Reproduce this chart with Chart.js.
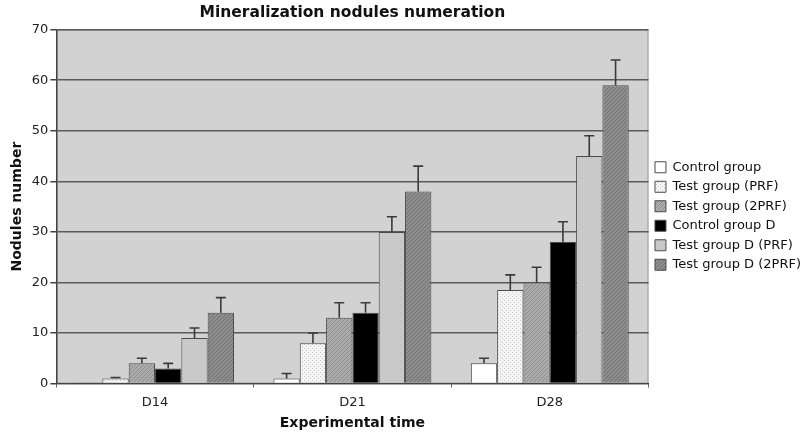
<!DOCTYPE html>
<html>
<head>
<meta charset="utf-8">
<script src="https://cdn.jsdelivr.net/npm/chart.js@4.4.1/dist/chart.umd.min.js"></script>
<style>
  html, body { margin: 0; padding: 0; background: #fff; }
  #wrap { width: 802px; height: 432px; }
</style>
</head>
<body>
<div id="wrap"><canvas id="chart"></canvas></div>
<script>
const categories = ["D14", "D21", "D28"];
const seriesNames = ["Control group", "Test group (PRF)", "Test group (2PRF)", "Control group D", "Test group D (PRF)", "Test group D (2PRF)"];

const controlGroup = [0.2, 1, 4];
const testPRF = [1, 8, 18.5];
const test2PRF = [4, 13, 20];
const controlD = [3, 14, 28];
const testDPRF = [9, 30, 45];
const testD2PRF = [14, 38, 59];

const controlGroupErr = [0, 1, 1];
const testPRFErr = [0.2, 2, 3];
const test2PRFErr = [1, 3, 3];
const controlDErr = [1, 2, 4];
const testDPRFErr = [2, 3, 4];
const testD2PRFErr = [3, 5, 5];

const font = "'DejaVu Sans', Verdana, sans-serif";

// small canvas patterns to mimic the printed fills
const makePattern = (bg, dot, kind) => {
  const c = document.createElement("canvas");
  c.width = 4;
  c.height = 4;
  const g = c.getContext("2d");
  g.fillStyle = bg;
  g.fillRect(0, 0, 4, 4);
  g.fillStyle = dot;
  if (kind === "dots") {
    g.fillRect(0, 0, 1, 1);
    g.fillRect(2, 2, 1, 1);
  } else {
    g.fillRect(0, 3, 1, 1);
    g.fillRect(1, 2, 1, 1);
    g.fillRect(2, 1, 1, 1);
    g.fillRect(3, 0, 1, 1);
  }
  return g.createPattern(c, "repeat");
};

const ctx = document.getElementById("chart").getContext("2d");

const fills = [
  "#ffffff",
  makePattern("#f4f4f4", "#c8c8c8", "dots"),
  makePattern("#ababab", "#8e8e8e", "hatch"),
  "#000000",
  makePattern("#cbcbcb", "#b8b8b8", "dots"),
  makePattern("#8d8d8d", "#727272", "hatch"),
];
const values = [controlGroup, testPRF, test2PRF, controlD, testDPRF, testD2PRF];
const errors = [controlGroupErr, testPRFErr, test2PRFErr, controlDErr, testDPRFErr, testD2PRFErr];

const plotBackground = {
  id: "plotBackground",
  beforeDraw(chart) {
    const { ctx, chartArea: a } = chart;
    ctx.save();
    ctx.fillStyle = "#d2d2d2";
    ctx.fillRect(a.left, a.top, a.right - a.left, a.bottom - a.top);
    ctx.strokeStyle = "#9a9a9a";
    ctx.lineWidth = 1;
    ctx.strokeRect(a.left + 0.5, a.top + 0.5, a.right - a.left - 1, a.bottom - a.top - 1);
    ctx.restore();
  },
};

// upward error bars with a cap, drawn off the y scale
const errorBars = {
  id: "errorBars",
  afterDatasetsDraw(chart) {
    const { ctx } = chart;
    const y = chart.scales.y;
    ctx.save();
    ctx.strokeStyle = "#3a3a3a";
    ctx.lineWidth = 1.6;
    chart.data.datasets.forEach((ds, i) => {
      const meta = chart.getDatasetMeta(i);
      meta.data.forEach((bar, j) => {
        const err = ds.errors[j];
        if (!err) return;
        const top = y.getPixelForValue(ds.data[j] + err);
        ctx.beginPath();
        ctx.moveTo(bar.x, bar.y);
        ctx.lineTo(bar.x, top);
        ctx.moveTo(bar.x - 5, top);
        ctx.lineTo(bar.x + 5, top);
        ctx.stroke();
      });
    });
    ctx.restore();
  },
};

new Chart(ctx, {
  type: "bar",
  data: {
    labels: categories,
    datasets: seriesNames.map((name, i) => ({
      label: name,
      data: values[i],
      errors: errors[i],
      backgroundColor: fills[i],
      borderColor: "#4a4a4a",
      borderWidth: 1,
      categoryPercentage: 0.8,
      barPercentage: 1.0,
    })),
  },
  options: {
    responsive: true,
    maintainAspectRatio: false,
    animation: false,
    devicePixelRatio: 1,
    layout: {
      padding: { top: 0, right: -9, bottom: 0, left: 5 },
    },
    scales: {
      x: {
        grid: { display: true, drawOnChartArea: false, tickLength: 4, color: "#666" },
        border: { color: "#444", width: 1 },
        ticks: { color: "#222", font: { family: font, size: 13 }, padding: 7 },
        title: { display: true, text: "Experimental time", color: "#111", font: { family: font, size: 14, weight: "bold" }, padding: { top: -2, bottom: 0 } },
      },
      y: {
        min: 0,
        max: 70,
        ticks: { stepSize: 10, color: "#222", font: { family: font, size: 13 }, padding: 2 },
        grid: { color: "#5a5a5a", lineWidth: 1.5, tickLength: 6, tickColor: "#444" },
        border: { color: "#444", width: 1.5 },
        title: { display: true, text: "Nodules number", color: "#111", font: { family: font, size: 14, weight: "bold" }, padding: { bottom: 4 } },
      },
    },
    plugins: {
      title: {
        display: true,
        fullSize: false,
        text: "Mineralization nodules numeration",
        color: "#111",
        font: { family: font, size: 15.5, weight: "bold" },
        padding: { top: 4, bottom: 7 },
      },
      legend: {
        position: "right",
        labels: {
          color: "#111",
          font: { family: font, size: 13 },
          boxWidth: 11,
          boxHeight: 11,
          padding: 6.5,
        },
      },
      tooltip: { enabled: false },
    },
  },
  plugins: [plotBackground, errorBars],
});
</script>
</body>
</html>
